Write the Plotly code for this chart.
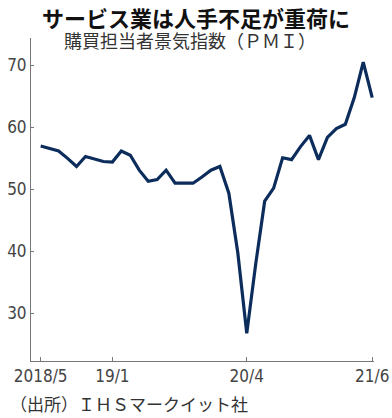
import plotly.graph_objects as go
import pandas as pd

months = [d.strftime("%Y/%m") for d in pd.date_range("2018-05-01", "2021-06-01", freq="MS")]
pmi = [57.0, 56.6, 56.2, 55.0, 53.7, 55.3, 54.9, 54.5, 54.4, 56.2, 55.5, 53.1,
       51.3, 51.6, 53.1, 51.0, 51.0, 51.0, 52.0, 53.1, 53.7, 49.4, 39.8, 26.8,
       38.0, 48.1, 50.2, 55.1, 54.8, 56.9, 58.7, 54.8, 58.4, 59.8, 60.5, 64.8,
       70.5, 64.8]
tick_labels = {"2018/05": "2018/5", "2019/01": "19/1", "2020/04": "20/4", "2021/06": "21/6"}
y_ticks = [30, 40, 50, 60, 70]

idx = list(range(len(months)))
tickvals = [months.index(k) for k in tick_labels]
ticktext = list(tick_labels.values())

fig = go.Figure()
fig.add_trace(go.Scatter(x=idx, y=pmi, mode="lines",
                         line=dict(color="#0c2d5c", width=3.2),
                         hoverinfo="skip", showlegend=False))

tickfont = dict(family="DejaVu Sans Condensed, Liberation Sans Narrow, sans-serif", size=17, color="#444444")

fig.update_layout(
    width=392, height=418,
    margin=dict(l=31, r=18, t=38, b=57),
    paper_bgcolor="white", plot_bgcolor="white",
    xaxis=dict(range=[-1.08, 37.2], tickvals=tickvals, ticktext=ticktext, automargin=False,
               showgrid=False, zeroline=False, showline=True, linecolor="#777777", linewidth=1,
               ticks="inside", ticklen=4, tickcolor="#777777", tickfont=tickfont),
    yaxis=dict(range=[22.35, 74.4], tickvals=y_ticks, automargin=False,
               showgrid=False, zeroline=False, showline=True, linecolor="#777777", linewidth=1,
               ticks="inside", ticklen=3, tickcolor="#777777", tickfont=tickfont,
               ticklabelstandoff=0),
)
fig.add_annotation(text="<b>サービス業は人手不足が重荷に</b>", xref="paper", yref="paper",
                   x=0.5, y=1, yanchor="middle", yshift=21, xanchor="center", showarrow=False,
                   xshift=-7,
                   font=dict(family="Noto Sans CJK JP", size=22, color="#111111"))
fig.add_annotation(text="購買担当者景気指数（ＰＭＩ）", xref="paper", yref="paper",
                   x=0.5, y=1, yanchor="middle", yshift=-2, xanchor="center", showarrow=False,
                   xshift=-13,
                   font=dict(family="Noto Sans CJK JP", size=18, color="#333333"))
fig.add_annotation(text="（出所）ＩＨＳマークイット社", xref="paper", yref="paper",
                   x=0, xshift=-23, y=0, yshift=-42, xanchor="left", yanchor="middle", showarrow=False,
                   font=dict(family="Noto Sans CJK JP", size=17, color="#333333"))

fig.write_html("out.html", config={"displayModeBar": False, "staticPlot": True},
               post_script="document.body.style.margin='0';")
